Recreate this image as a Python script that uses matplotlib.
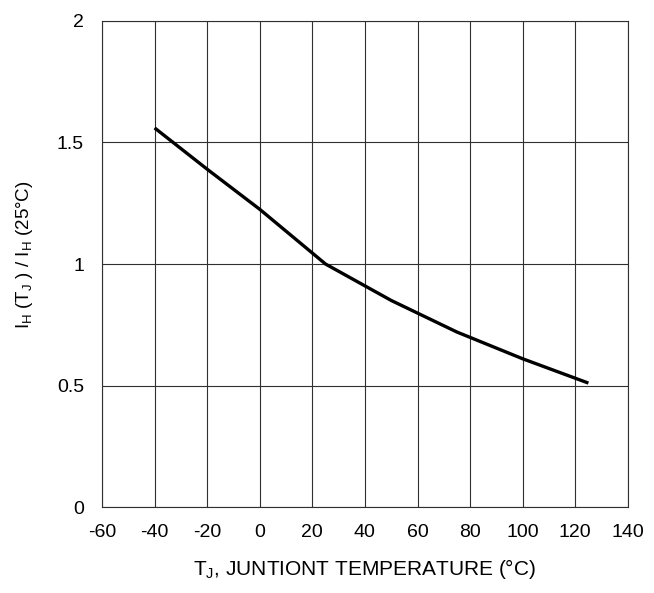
import matplotlib
matplotlib.use('Agg')
import matplotlib.pyplot as plt

plt.rcParams['font.family'] = ['Liberation Sans', 'DejaVu Sans']
plt.rcParams['mathtext.fontset'] = 'custom'
plt.rcParams['mathtext.rm'] = 'Liberation Sans'
plt.rcParams['axes.unicode_minus'] = False

# junction temperature (C) and holding current ratio
temp = [-40, -20, 0, 25, 50, 75, 100, 125]
ratio = [1.56, 1.39, 1.225, 1.0, 0.85, 0.72, 0.61, 0.51]

xticks = [-60, -40, -20, 0, 20, 40, 60, 80, 100, 120, 140]
yticks = [0, 0.5, 1, 1.5, 2]
ytick_labels = ['0', '0.5', '1', '1.5', '2']

fig = plt.figure(figsize=(6.54, 5.93), dpi=100)
ax = fig.add_axes([0.156, 0.145, 0.804, 0.8196])

ax.plot(temp, ratio, color='black', linewidth=2.4, solid_capstyle='butt')

ax.set_xlim(-60, 140)
ax.set_ylim(0, 2)
ax.set_xticks(xticks)
ax.set_yticks(yticks)
ax.set_yticklabels(ytick_labels)
ax.grid(True, color='#303030', linewidth=0.8)
ax.set_axisbelow(True)
for s in ax.spines.values():
    s.set_color('#303030')
    s.set_linewidth(0.8)

ax.tick_params(axis='both', length=0, labelsize=14)
ax.tick_params(axis='x', pad=12)
ax.tick_params(axis='y', pad=13)

ax.set_xlabel(r'T$_\mathregular{J}$, JUNTIONT TEMPERATURE (°C)', fontsize=15, labelpad=12)
ax.set_ylabel(r'I$_\mathregular{H}$ (T$_\mathregular{J}$ ) / I$_\mathregular{H}$ (25°C)', fontsize=13.5)
ax.yaxis.set_label_coords(-0.128, 0.52)

fig.savefig('out.png', dpi=100)
